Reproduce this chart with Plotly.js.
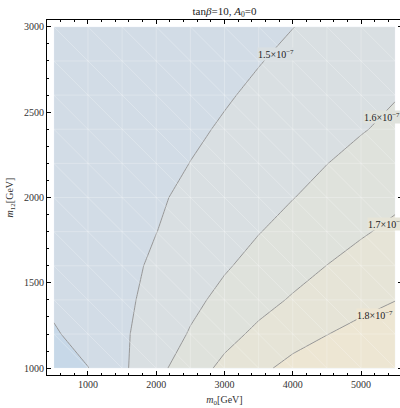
<!DOCTYPE html>
<html><head><meta charset="utf-8">
<script src="https://cdn.plot.ly/plotly-3.0.1.min.js"></script>
<style>html,body{margin:0;padding:0;overflow:hidden;background:#fff}#chart{width:403px;height:408px}</style>
</head><body><div id="chart"></div>
<script>
// grid of m0 (GeV)
const m0 = [500, 1000, 1500, 2000, 2500, 3000, 3500, 4000, 4500, 5000, 5500];
// grid of m1/2 (GeV)
const m12 = [1000, 1200, 1400, 1600, 1800, 2000, 2200, 2400, 2600, 2800, 3000];
// values in units of 1e-7, one row per m12 value
const zVals = [
  [1.33, 1.398, 1.483, 1.572, 1.654, 1.723, 1.778, 1.83, 1.86, 1.88, 1.89],
  [1.39, 1.437, 1.486, 1.545, 1.607, 1.670, 1.720, 1.759, 1.798, 1.83, 1.855],
  [1.42, 1.45, 1.48, 1.529, 1.578, 1.624, 1.669, 1.709, 1.739, 1.769, 1.798],
  [1.43, 1.45, 1.476, 1.514, 1.552, 1.591, 1.628, 1.664, 1.701, 1.735, 1.768],
  [1.43, 1.45, 1.472, 1.499, 1.532, 1.565, 1.597, 1.628, 1.659, 1.690, 1.721],
  [1.43, 1.445, 1.465, 1.49, 1.517, 1.544, 1.571, 1.598, 1.625, 1.652, 1.679],
  [1.43, 1.44, 1.455, 1.475, 1.501, 1.525, 1.55, 1.575, 1.599, 1.624, 1.649],
  [1.425, 1.435, 1.45, 1.467, 1.487, 1.508, 1.530, 1.551, 1.573, 1.595, 1.617],
  [1.42, 1.43, 1.442, 1.457, 1.475, 1.493, 1.513, 1.534, 1.555, 1.575, 1.596],
  [1.42, 1.425, 1.435, 1.447, 1.462, 1.479, 1.497, 1.516, 1.535, 1.555, 1.575],
  [1.415, 1.42, 1.428, 1.438, 1.451, 1.466, 1.483, 1.499, 1.518, 1.537, 1.556]
];
const levels = [1.4, 1.5, 1.6, 1.7, 1.8];
const labeledLevels = [1.5, 1.6, 1.7, 1.8];
const bandColors = ['#c7d8e8', '#d2dce6', '#d9dfe2', '#dfe2dc', '#e6e4d7', '#ede6d3'];

// mesh lines following the sampling grid
const mx = [], my = [];
m0.forEach(x => { mx.push(x, x, null); my.push(m12[0], m12[m12.length - 1], null); });
m12.forEach(y => { mx.push(m0[0], m0[m0.length - 1], null); my.push(y, y, null); });
const nx = m0.length, ny = m12.length;
for (let k = 1; k < (nx - 1) + (ny - 1); k++) {
  const iMin = Math.max(0, k - (ny - 1)), iMax = Math.min(nx - 1, k);
  for (let i = iMin; i <= iMax; i++) { mx.push(m0[i]); my.push(m12[k - i]); }
  mx.push(null); my.push(null);
}

const step = levels[1] - levels[0];
const contour = {
  type: 'contour', x: m0, y: m12, z: zVals,
  autocontour: false,
  contours: {start: levels[0], end: levels[levels.length - 1], size: step, coloring: 'fill', showlines: true},
  line: {color: '#979797', width: 1, smoothing: 0},
  colorscale: bandColors.map((c, i) => [i / (bandColors.length - 1), c]),
  showscale: false, hoverinfo: 'skip'
};
const mesh = {
  type: 'scatter', mode: 'lines', x: mx, y: my,
  line: {color: 'rgba(255,255,255,0.32)', width: 0.8},
  hoverinfo: 'skip', showlegend: false
};

const labelPos = {1.5: [3755, 2842], 1.6: [5309, 2472], 1.7: [5368, 1845], 1.8: [5207, 1311]};
const annotations = labeledLevels.map(L => ({
  x: labelPos[L][0], y: labelPos[L][1], xref: 'x', yref: 'y',
  text: L.toFixed(1) + '×10<sup>−7</sup>', showarrow: false,
  font: {size: 10, color: '#222', family: 'Liberation Serif, serif'},
  bgcolor: bandColors[levels.indexOf(L) + 1], borderpad: 0
}));

const axisCommon = {
  ticks: 'inside', ticklen: 4, tickwidth: 1, tickcolor: '#000',
  showline: true, linecolor: '#000', linewidth: 1, mirror: 'ticks',
  showgrid: false, zeroline: false,
  tickfont: {size: 10, color: '#333', family: 'Liberation Serif, serif'}
};
const layout = {
  width: 403, height: 408,
  margin: {l: 47, r: 1, t: 20, b: 33},
  paper_bgcolor: '#fff', plot_bgcolor: '#fff', showlegend: false,
  font: {family: 'Liberation Serif, serif', size: 10, color: '#333'},
  title: {text: 'tan<i>β</i>=10, <i>A</i><sub>0</sub>=0', font: {size: 11, color: '#222'},
          x: 0.5, xref: 'paper', xanchor: 'center', y: 1 - 11 / 408, yref: 'container', yanchor: 'middle'},
  xaxis: Object.assign({}, axisCommon, {
    range: [400, 5600], tick0: 0, dtick: 1000,
    minor: {tick0: 0, dtick: 200, ticks: 'inside', ticklen: 2, tickcolor: '#000', showgrid: false},
    title: {text: '<i>m</i><sub>0</sub>[GeV]', font: {size: 10, color: '#333'}, standoff: 6}
  }),
  yaxis: Object.assign({}, axisCommon, {
    range: [960, 3040], tick0: 0, dtick: 500,
    minor: {tick0: 0, dtick: 100, ticks: 'inside', ticklen: 2, tickcolor: '#000', showgrid: false},
    title: {text: '<i>m</i><sub>12</sub>[GeV]', font: {size: 10, color: '#333'}, standoff: 8}
  }),
  annotations: annotations
};
Plotly.newPlot('chart', [contour, mesh], layout, {displayModeBar: false, staticPlot: true});
</script>
</body></html>
